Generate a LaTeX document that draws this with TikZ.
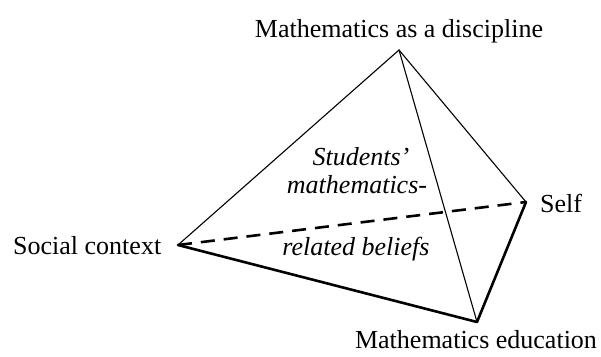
\documentclass[tikz,border=0pt]{standalone}
\usepackage{fontspec}
\setmainfont{Liberation Serif}
\begin{document}
\begin{tikzpicture}[x=1pt,y=-1pt,
  lbl/.style={inner sep=0pt,anchor=base,font=\fontsize{26}{30}\selectfont},
  ital/.style={lbl,font=\fontsize{26}{30}\selectfont\itshape},
  thinedge/.style={line width=1.1pt,line cap=round},
  thickedge/.style={line width=2.6pt,line cap=round,line join=round},
  hidden/.style={line width=2.6pt,dash pattern=on 14pt off 9pt}]
\useasboundingbox (0,0) rectangle (601,356);
\coordinate (A) at (399,50);
\coordinate (Se) at (526,202);
\coordinate (So) at (178,245);
\coordinate (Me) at (477,322);
\node[lbl] (tA) at (399,37) {Mathematics as a discipline};
\node[lbl,anchor=base west] (tSe) at (540,212) {Self};
\node[lbl,anchor=base west] (tSo) at (13,254) {Social context};
\node[lbl] (tMe) at (476,348) {Mathematics education};
\node[ital] (c1) at (361,165) {Students’};
\node[ital] (c2) at (357,193) {mathematics-};
\node[ital] (c3) at (356,255) {related beliefs};
\draw[hidden] (So) -- (Se);
\draw[thinedge] (So) -- (A) -- (Se);
\draw[thinedge] (A) -- (Me);
\draw[thickedge] (So) -- (Me) -- (Se);
\end{tikzpicture}
\end{document}
